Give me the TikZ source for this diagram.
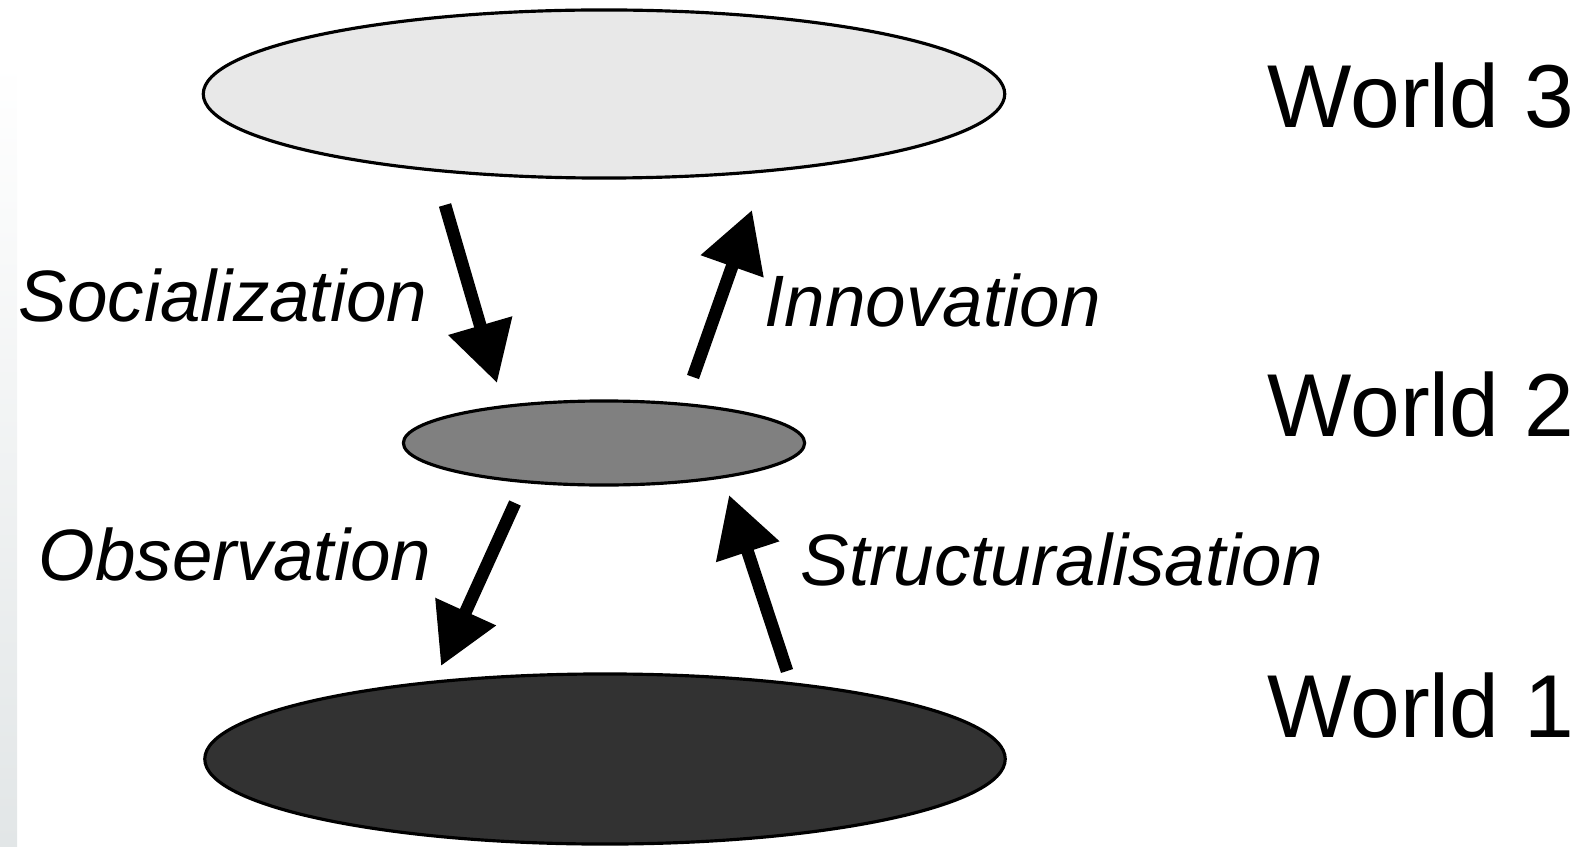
\documentclass[tikz,border=0pt]{standalone}
\usepackage{fontspec}
\setmainfont{Liberation Sans}
\usepackage{tikz}
\usetikzlibrary{positioning, arrows.meta, shapes.geometric}
\definecolor{paleworld}{RGB}{232,232,232}
\definecolor{midworld}{RGB}{128,128,128}
\definecolor{darkworld}{RGB}{50,50,50}
\definecolor{edgestrip}{RGB}{226,230,231}

\begin{document}
\begin{tikzpicture}[x=0.01cm, y=-0.01cm,
  world/.style={ellipse, draw=black, line width=0.9pt, inner sep=0pt},
  worldlabel/.style={anchor=base west, inner sep=0pt, font=\fontsize{25.4}{30}\selectfont},
  flowlabel/.style={anchor=base west, inner sep=0pt, font=\fontsize{20.7}{24}\selectfont\itshape},
  flow/.style={line width=3.6pt, -{Triangle[length=17pt, width=18pt]}},
]
  \useasboundingbox (0,0) rectangle (1583,846);
  \shade[top color=white, bottom color=edgestrip] (0,60) rectangle (17,846);

  \node[world, fill=paleworld, minimum width=8.01cm, minimum height=1.68cm] (w3) at (604,94) {};
  \node[world, fill=midworld, minimum width=4.01cm, minimum height=0.84cm] (w2) at (604,443) {};
  \node[world, fill=darkworld, minimum width=8.0cm, minimum height=1.7cm] (w1) at (605,759) {};

  \node[worldlabel] (l3) at (1267,128) {World 3};
  \node[worldlabel] (l2) at (1267,436) {World 2};
  \node[worldlabel] (l1) at (1267,737) {World 1};

  \node[flowlabel] (soc) at (18,321) {Socialization};
  \node[flowlabel] (inn) at (764,326) {Innovation};
  \node[flowlabel] (obs) at (38,580) {Observation};
  \node[flowlabel] (str) at (800,585) {Structuralisation};

  \coordinate (socA) at (445,205);
  \coordinate (socB) at (497,383);
  \coordinate (innA) at (693,377);
  \coordinate (innB) at (752,210);
  \coordinate (obsA) at (515,503);
  \coordinate (obsB) at (441,666);
  \coordinate (strA) at (787,671);
  \coordinate (strB) at (729,495);

  \draw[flow] (socA) -- (socB);
  \draw[flow] (innA) -- (innB);
  \draw[flow] (obsA) -- (obsB);
  \draw[flow] (strA) -- (strB);
\end{tikzpicture}
\end{document}
